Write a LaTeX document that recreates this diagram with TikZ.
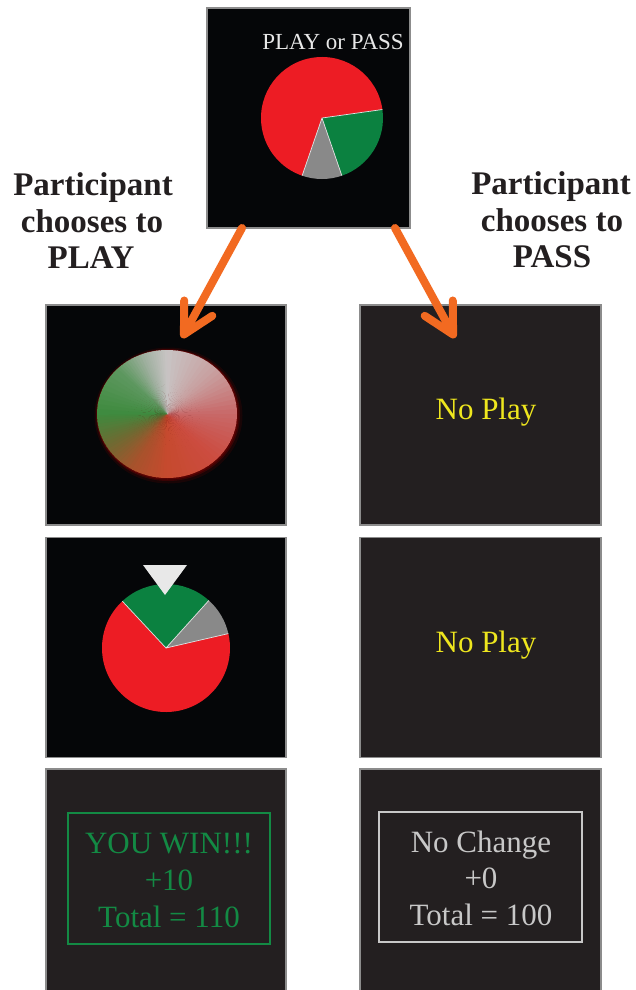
\documentclass[tikz,border=0pt]{standalone}
\usepackage{fontspec}
\setmainfont{Liberation Serif}
\usetikzlibrary{arrows.meta}
\definecolor{pblack}{HTML}{050608}
\definecolor{pdark}{HTML}{231F20}
\definecolor{pborder}{HTML}{8C8C8C}
\definecolor{piered}{HTML}{ED1C24}
\definecolor{piegreen}{HTML}{0B8140}
\definecolor{piegray}{HTML}{898989}
\definecolor{noplay}{HTML}{EEE61E}
\definecolor{wingreen}{HTML}{138A44}
\definecolor{nochg}{HTML}{C8C8C8}
\definecolor{arrorange}{HTML}{F26A21}
\definecolor{labtext}{HTML}{231F20}
\definecolor{titletext}{HTML}{E8E8E8}
\definecolor{kA}{HTML}{3E8A3E}
\definecolor{kB}{HTML}{6E6A32}
\definecolor{kC}{HTML}{A8522C}
\definecolor{kD}{HTML}{C64A2E}
\definecolor{kE}{HTML}{CC4C40}
\definecolor{kF}{HTML}{C86868}
\definecolor{kG}{HTML}{C8A0A0}
\definecolor{kH}{HTML}{C8C4C4}
\definecolor{kI}{HTML}{A0B0A0}
\definecolor{kJ}{HTML}{5E9860}
\tikzset{
  panel/.style={draw=pborder, line width=1.2pt, inner sep=0pt, minimum width=240pt, minimum height=220pt},
  lab/.style={text=labtext, font=\fontsize{33}{36}\selectfont\bfseries, inner sep=0pt, anchor=base},
  scrtext/.style={font=\fontsize{31}{36}\selectfont, inner sep=0pt, anchor=base},
  choice/.style={draw=arrorange, line width=8pt, line cap=round,
    -{Straight Barb[length=30pt, width=32pt, round]}},
  sep/.style={draw=white!80!gray, line width=0.7pt}
}
\begin{document}
\begin{tikzpicture}[x=1pt, y=-1pt]
\useasboundingbox (0,0) rectangle (636,990);
\fill[white] (0,0) rectangle (636,990);

% panels
\node[panel, fill=pblack, minimum width=203pt, minimum height=220pt] (top) at (308.5,118) {};
\node[panel, fill=pblack] (L1) at (166,415) {};
\node[panel, fill=pblack] (L2) at (166,647.5) {};
\node[panel, fill=pdark, minimum height=226pt] (L3) at (166,882) {};
\node[panel, fill=pdark, minimum width=241pt] (R1) at (480.5,415) {};
\node[panel, fill=pdark, minimum width=241pt] (R2) at (480.5,647.5) {};
\node[panel, fill=pdark, minimum width=241pt, minimum height=226pt] (R3) at (480.5,882) {};

% top panel content
\node[scrtext, text=titletext, font=\fontsize{23}{26}\selectfont] (title) at (333,49) {PLAY or PASS};
\begin{scope}[shift={(322,118)}, y=1pt]
  \fill[piered] (0,0) -- (8:61) arc[start angle=8, end angle=251, radius=61] -- cycle;
  \fill[piegreen] (0,0) -- (-71:61) arc[start angle=-71, end angle=8, radius=61] -- cycle;
  \fill[piegray] (0,0) -- (-109:61) arc[start angle=-109, end angle=-71, radius=61] -- cycle;
  \draw[sep] (8:61) -- (0,0) -- (-71:61) (0,0) -- (-109:61);
\end{scope}

% labels
\node[lab] (lp1) at (93,195) {Participant};
\node[lab] (lp2) at (92,232) {chooses to};
\node[lab] (lp3) at (91,268) {PLAY};
\node[lab] (rp1) at (551,194) {Participant};
\node[lab] (rp2) at (552,231) {chooses to};
\node[lab] (rp3) at (552,267) {PASS};

% spinning (blurred) wheel
\begin{scope}[shift={(167,414)}, y=1pt]
  \fill[red!55!black, opacity=0.15] (1.5,-1.5) ellipse[x radius=74, y radius=68];
  \fill[red!60!black, opacity=0.25] (1,-1) ellipse[x radius=72, y radius=66];
  \fill[red!65!black, opacity=0.3] (0.5,-0.5) ellipse[x radius=71, y radius=65];
  \foreach \s/\e/\ca/\cb in {-180/-150/kA/kB, -150/-120/kB/kC, -120/-90/kC/kD, -90/-45/kD/kE,
      -45/0/kE/kF, 0/45/kF/kG, 45/90/kG/kH, 90/110/kH/kI, 110/135/kI/kJ, 135/180/kJ/kA} {
    \foreach \i in {0,...,9} {
      \pgfmathsetmacro\a{\s+(\e-\s)*\i/10}
      \pgfmathsetmacro\b{\s+(\e-\s)*(\i+1)/10+0.8}
      \pgfmathtruncatemacro\p{100*(\i+0.5)/10}
      \fill[\cb!\p!\ca] (0,0) -- (\a:70 and 64) arc[start angle=\a, end angle=\b, x radius=70, y radius=64] -- cycle;
    }
  }
\end{scope}

% result wheel with pointer
\begin{scope}[shift={(166,648)}, y=1pt]
  \fill[piered] (0,0) -- (133:64) arc[start angle=133, end angle=373, radius=64] -- cycle;
  \fill[piegreen] (0,0) -- (48:64) arc[start angle=48, end angle=133, radius=64] -- cycle;
  \fill[piegray] (0,0) -- (13:64) arc[start angle=13, end angle=48, radius=64] -- cycle;
  \draw[sep] (133:64) -- (0,0) -- (48:64) (0,0) -- (13:64);
\end{scope}
\fill[white!82!gray] (143,565) -- (187,565) -- (165,595) -- cycle;

% No Play texts
\node[scrtext, text=noplay] (np1) at (486,419) {No Play};
\node[scrtext, text=noplay] (np2) at (486,652) {No Play};

% outcome boxes
\draw[wingreen, line width=1.5pt] (68,813) rectangle (270,944);
\node[scrtext, text=wingreen] (w1) at (169,853) {YOU WIN!!!};
\node[scrtext, text=wingreen] (w2) at (169,890) {+10};
\node[scrtext, text=wingreen] (w3) at (169,927) {Total = 110};
\draw[nochg, line width=1.5pt] (379,812) rectangle (582,942);
\node[scrtext, text=nochg] (n1) at (481,852) {No Change};
\node[scrtext, text=nochg] (n2) at (481,888) {+0};
\node[scrtext, text=nochg] (n3) at (481,925) {Total = 100};

% choice arrows
\coordinate (ls) at (242,228);
\coordinate (la) at (182,338);
\coordinate (rs) at (395,228);
\coordinate (ra) at (455,338);
\draw[choice] (ls) -- (la);
\draw[choice] (rs) -- (ra);
\end{tikzpicture}
\end{document}
